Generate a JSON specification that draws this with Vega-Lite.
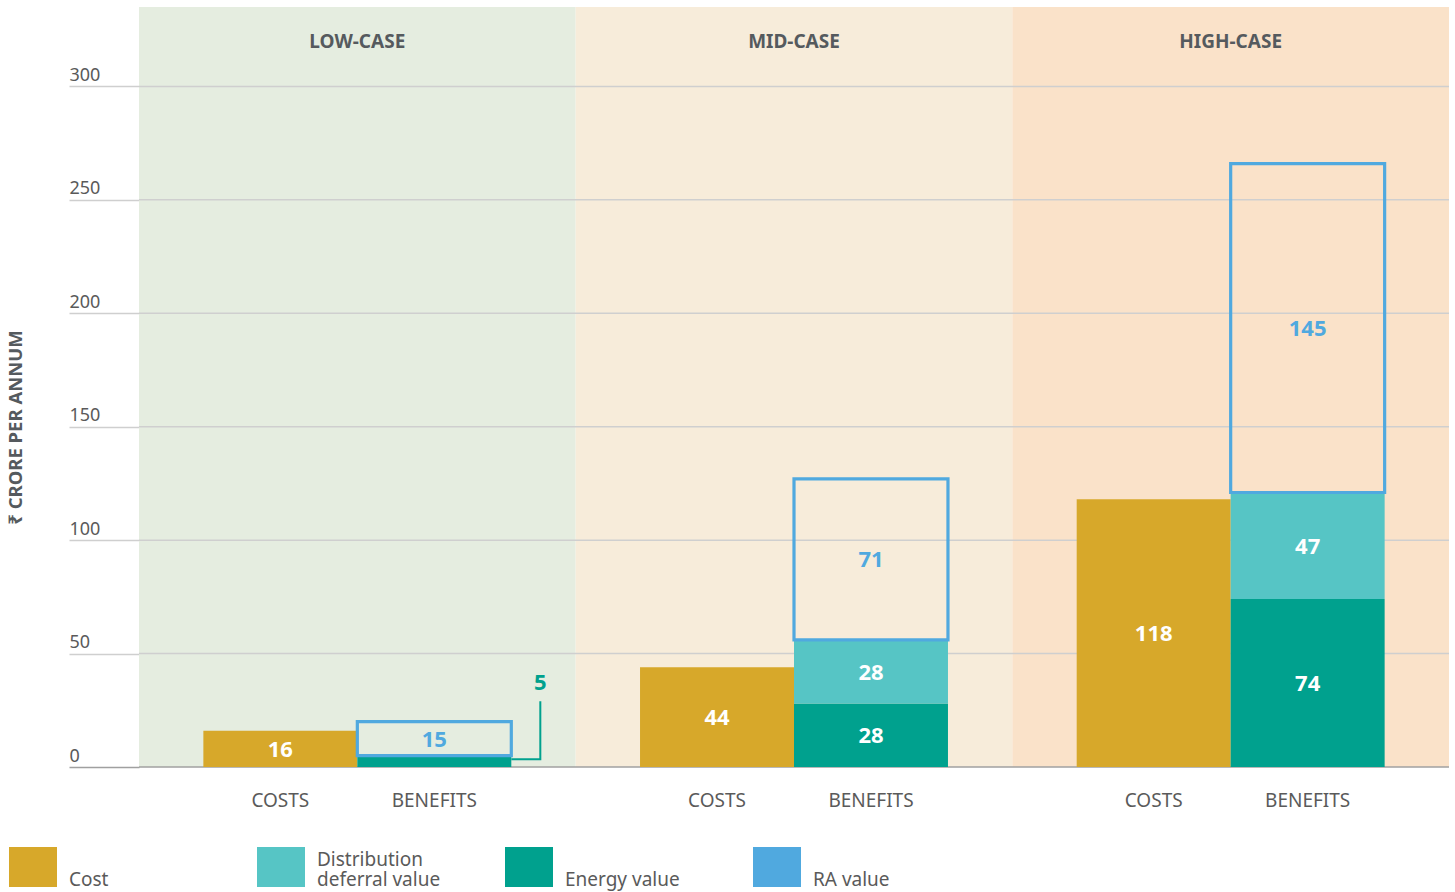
{
  "$schema": "https://vega.github.io/schema/vega-lite/v6.json",
  "autosize": {"type": "none"},
  "padding": {"left": 139, "top": 7, "right": 6, "bottom": 125},
  "width": 1310,
  "height": 760,
  "background": "white",
  "config": {
    "font": "Noto Sans",
    "view": {"stroke": null},
    "axisX": {
      "ticks": false, "tickSize": 0, "domain": false, "grid": false,
      "labelPadding": -34, "labelBaseline": "middle", "labelAngle": 0,
      "labelFontSize": 19, "labelFontWeight": "bold", "labelColor": "#555a5e"
    },
    "axisY": {
      "grid": false, "domain": false, "ticks": true, "tickSize": 70, "tickWidth": 1.5,
      "tickColor": {"condition": {"test": "datum.value === 0", "value": "#a0a0a0"}, "value": "#cfcfcf"},
      "labelAlign": "left", "labelBaseline": "alphabetic", "labelPadding": 0, "labelOffset": -6,
      "labelFontSize": 18, "labelColor": "#5a5a5a",
      "titleX": -124, "titleY": 420, "titleAngle": 270, "titleAlign": "center", "titleBaseline": "middle",
      "titleFontSize": 18.5, "titleFontWeight": "bold", "titleColor": "#555a5e"
    }
  },
  "layer": [
    {
      "data": {"values": [{"case": "LOW-CASE"}, {"case": "MID-CASE"}, {"case": "HIGH-CASE"}]},
      "mark": {"type": "rect"},
      "encoding": {
        "x": {"field": "case", "type": "nominal", "title": null,
              "scale": {"domain": ["LOW-CASE", "MID-CASE", "HIGH-CASE"], "paddingInner": 0, "paddingOuter": 0},
              "axis": {"orient": "top", "title": null}},
        "y": {"datum": 335, "type": "quantitative", "title": "₹ CRORE PER ANNUM",
              "scale": {"domain": [0, 335], "nice": false},
              "axis": {"values": [0, 50, 100, 150, 200, 250, 300], "title": "₹ CRORE PER ANNUM"}},
        "y2": {"datum": 0},
        "fill": {"field": "case", "type": "nominal", "legend": null,
                 "scale": {"domain": ["LOW-CASE", "MID-CASE", "HIGH-CASE"], "range": ["#e5ede0", "#f7ecda", "#fae2c9"]}}
      }
    },
    {
      "data": {"values": [{"v": 0}, {"v": 50}, {"v": 100}, {"v": 150}, {"v": 200}, {"v": 250}, {"v": 300}]},
      "mark": {"type": "rule", "strokeWidth": 1.5},
      "encoding": {
        "y": {"field": "v", "type": "quantitative", "title": "₹ CRORE PER ANNUM", "scale": {"domain": [0, 335], "nice": false}},
        "color": {"condition": {"test": "datum.v === 0", "value": "#a0a0a0"}, "value": "#cfcfcf"}
      }
    },
    {
      "data": {"values": [
        {"case": "LOW-CASE", "type": "COSTS", "series": "Cost", "value": 16},
        {"case": "LOW-CASE", "type": "BENEFITS", "series": "Energy value", "value": 5},
        {"case": "LOW-CASE", "type": "BENEFITS", "series": "RA value", "value": 15},
        {"case": "MID-CASE", "type": "COSTS", "series": "Cost", "value": 44},
        {"case": "MID-CASE", "type": "BENEFITS", "series": "Energy value", "value": 28},
        {"case": "MID-CASE", "type": "BENEFITS", "series": "Distribution deferral value", "value": 28},
        {"case": "MID-CASE", "type": "BENEFITS", "series": "RA value", "value": 71},
        {"case": "HIGH-CASE", "type": "COSTS", "series": "Cost", "value": 118},
        {"case": "HIGH-CASE", "type": "BENEFITS", "series": "Energy value", "value": 74},
        {"case": "HIGH-CASE", "type": "BENEFITS", "series": "Distribution deferral value", "value": 47},
        {"case": "HIGH-CASE", "type": "BENEFITS", "series": "RA value", "value": 145}
      ]},
      "transform": [
        {"calculate": "indexof(['Cost','Energy value','Distribution deferral value','RA value'], datum.series)", "as": "ord"},
        {"stack": "value", "groupby": ["case", "type"], "sort": [{"field": "ord", "order": "ascending"}], "as": ["v0", "v1"]},
        {"calculate": "(datum.v0 + datum.v1) / 2", "as": "vmid"}
      ],
      "encoding": {
        "x": {"field": "case", "type": "nominal", "title": null,
              "scale": {"domain": ["LOW-CASE", "MID-CASE", "HIGH-CASE"], "paddingInner": 0, "paddingOuter": 0},
              "axis": {"orient": "top", "title": null}},
        "xOffset": {"field": "type", "type": "nominal",
                    "scale": {"domain": ["COSTS", "BENEFITS"], "paddingInner": 0, "paddingOuter": 0.418}}
      },
      "layer": [
        {
          "transform": [{"filter": "datum.series !== 'RA value'"}],
          "mark": {"type": "bar"},
          "encoding": {
            "y": {"field": "v1", "type": "quantitative", "title": "₹ CRORE PER ANNUM", "scale": {"domain": [0, 335], "nice": false}},
            "y2": {"field": "v0"},
            "color": {"field": "series", "type": "nominal",
                      "scale": {"domain": ["Cost", "Distribution deferral value", "Energy value", "RA value"],
                                "range": ["#d7a82a", "#56c5c5", "#00a18e", "#50a9df"]},
                      "legend": {
                        "orient": "none", "legendX": -126, "legendY": 840, "direction": "horizontal", "columns": 4,
                        "title": null, "padding": 0, "gridAlign": "all", "columnPadding": 64,
                        "symbolType": "M-1.2,-1H1.2V1H-1.2Z", "symbolSize": 1600, "symbolStrokeWidth": 0, "symbolOpacity": 1,
                        "labelOffset": 16, "labelFontSize": 19, "labelColor": "#5a5a5a", "labelLimit": 400,
                        "labelBaseline": "bottom",
                        "labelExpr": "datum.label === 'Distribution deferral value' ? ['Distribution', 'deferral value'] : ['', datum.label]",
                        "encode": {"labels": {"update": {"dy": {"value": 3}, "lineHeight": {"value": 20}}}}
                      }}
          }
        },
        {
          "transform": [{"filter": "datum.series === 'RA value'"}],
          "mark": {"type": "bar", "fillOpacity": 0, "stroke": "#50a9df", "strokeWidth": 3.2},
          "encoding": {
            "y": {"field": "v1", "type": "quantitative", "title": "₹ CRORE PER ANNUM", "scale": {"domain": [0, 335], "nice": false}},
            "y2": {"field": "v0"}
          }
        },
        {
          "transform": [{"filter": "datum.value >= 10"}],
          "mark": {"type": "text", "fontSize": 22, "fontWeight": "bold", "baseline": "middle", "dy": 1},
          "encoding": {
            "y": {"field": "vmid", "type": "quantitative", "title": "₹ CRORE PER ANNUM", "scale": {"domain": [0, 335], "nice": false}},
            "text": {"field": "value", "type": "quantitative"},
            "color": {"condition": {"test": "datum.series === 'RA value'", "value": "#50a9df"}, "value": "#ffffff"}
          }
        },
        {
          "transform": [{"filter": "datum.value < 10"}],
          "mark": {"type": "text", "fontSize": 22, "fontWeight": "bold", "baseline": "middle", "dx": 106, "dy": -73, "color": "#00a18e"},
          "encoding": {
            "y": {"field": "v1", "type": "quantitative", "title": "₹ CRORE PER ANNUM", "scale": {"domain": [0, 335], "nice": false}},
            "text": {"field": "value", "type": "quantitative"}
          }
        },
        {
          "transform": [{"filter": "datum.value < 10"}],
          "mark": {"type": "point", "shape": "M77,-2H106V-60", "size": 4, "filled": false, "stroke": "#00a18e", "strokeWidth": 2, "opacity": 1},
          "encoding": {
            "y": {"field": "vmid", "type": "quantitative", "title": "₹ CRORE PER ANNUM", "scale": {"domain": [0, 335], "nice": false}}
          }
        },
        {
          "transform": [{"filter": "datum.series === 'Cost' || datum.series === 'Energy value'"}],
          "mark": {"type": "text", "fontSize": 19, "baseline": "middle", "dy": 34, "color": "#5a5a5a"},
          "encoding": {
            "y": {"datum": 0, "type": "quantitative", "title": "₹ CRORE PER ANNUM", "scale": {"domain": [0, 335], "nice": false}},
            "text": {"field": "type", "type": "nominal"}
          }
        }
      ]
    }
  ]
}
